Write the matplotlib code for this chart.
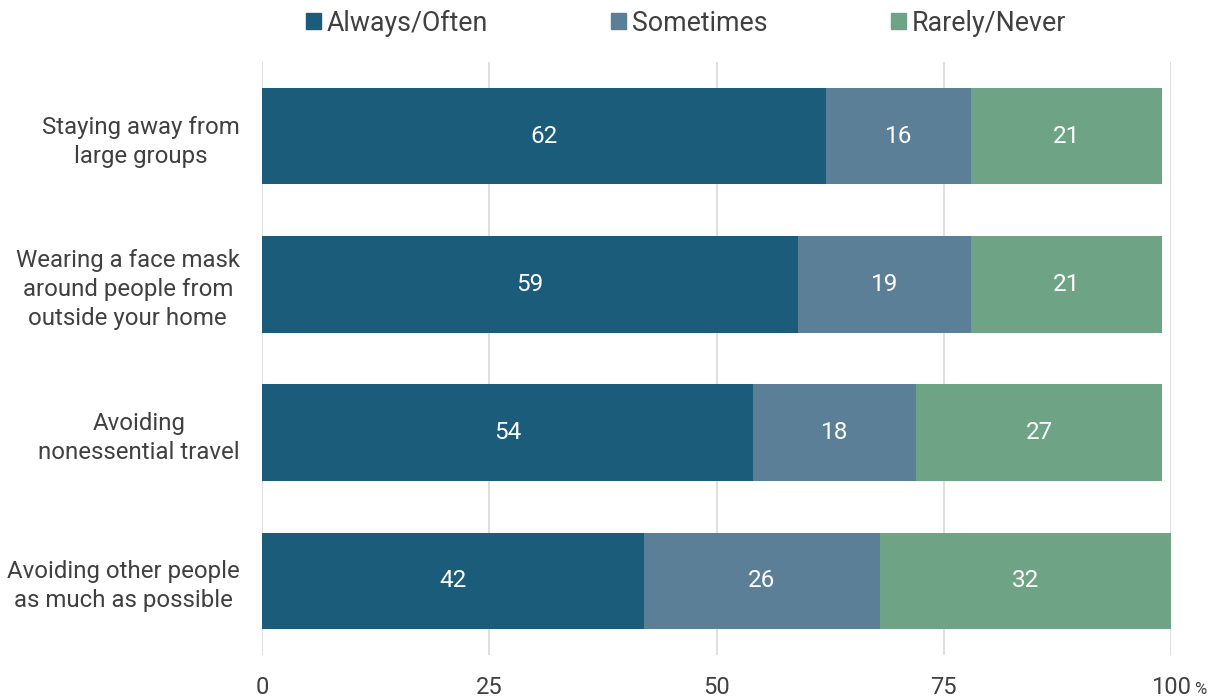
import matplotlib
matplotlib.use("Agg")
import matplotlib.pyplot as plt
import matplotlib.transforms as mtransforms
from matplotlib.patches import Patch

plt.rcParams['font.family'] = ['Roboto', 'DejaVu Sans']

categories = ["Staying away from\nlarge groups",
              "Wearing a face mask\naround people from\noutside your home",
              "Avoiding\nnonessential travel",
              "Avoiding other people\nas much as possible"]
series_names = ["Always/Often", "Sometimes", "Rarely/Never"]
always = [62, 59, 54, 42]
sometimes = [16, 19, 18, 26]
rarely = [21, 21, 27, 32]
colors = ["#1a5c7a", "#5a7f96", "#6fa386"]
xticks = [0, 25, 50, 75, 100]

fig = plt.figure(figsize=(12.21, 6.98), dpi=100)
ax = fig.add_axes([262/1221, 1-655/698, (1171-262)/1221, (655-62)/698])

y = list(range(len(categories)))
left = [0]*len(categories)
for vals, name, c in zip([always, sometimes, rarely], series_names, colors):
    bars = ax.barh(y, vals, left=left, height=0.65, color=c, label=name, zorder=3)
    for b, v in zip(bars, vals):
        ax.text(b.get_x() + b.get_width()/2, b.get_y() + b.get_height()/2, str(v),
                ha='center', va='center', color='white', fontsize=17.5, zorder=4)
    left = [l + v for l, v in zip(left, vals)]

ax.set_xlim(0, 100)
ax.set_ylim(3.5, -0.5)
ax.set_yticks(y)
ax.set_yticklabels(categories, fontsize=17.3, color='#404040', linespacing=1.33,
                   ha='right', multialignment='center')
offset = mtransforms.ScaledTranslation(0, 0.035, fig.dpi_scale_trans)
for lab in ax.get_yticklabels():
    lab.set_transform(lab.get_transform() + offset)
ax.set_xticks(xticks)
ax.set_xticklabels([str(t) for t in xticks], fontsize=17, color='#404040')
ax.tick_params(axis='both', length=0)
ax.tick_params(axis='x', pad=15)
ax.tick_params(axis='y', pad=16)
for s in ax.spines.values():
    s.set_visible(False)
ax.grid(axis='x', color='#d9d9d9', linewidth=1.2, zorder=0)
ax.set_axisbelow(True)

fig.text(1194/1221, 1-694/698, "%", fontsize=12, color='#404040', ha='left', va='baseline')

handles = [Patch(color=c, label=n) for c, n in zip(colors, series_names)]
fig.legend(handles=handles, loc='center', bbox_to_anchor=(686/1221, 1-23/698), ncol=3,
           frameon=False, fontsize=19.3, handlelength=0.56, handleheight=0.56,
           handletextpad=0.22, columnspacing=4.6, labelcolor='#404040')

fig.savefig("out.png", dpi=100)
